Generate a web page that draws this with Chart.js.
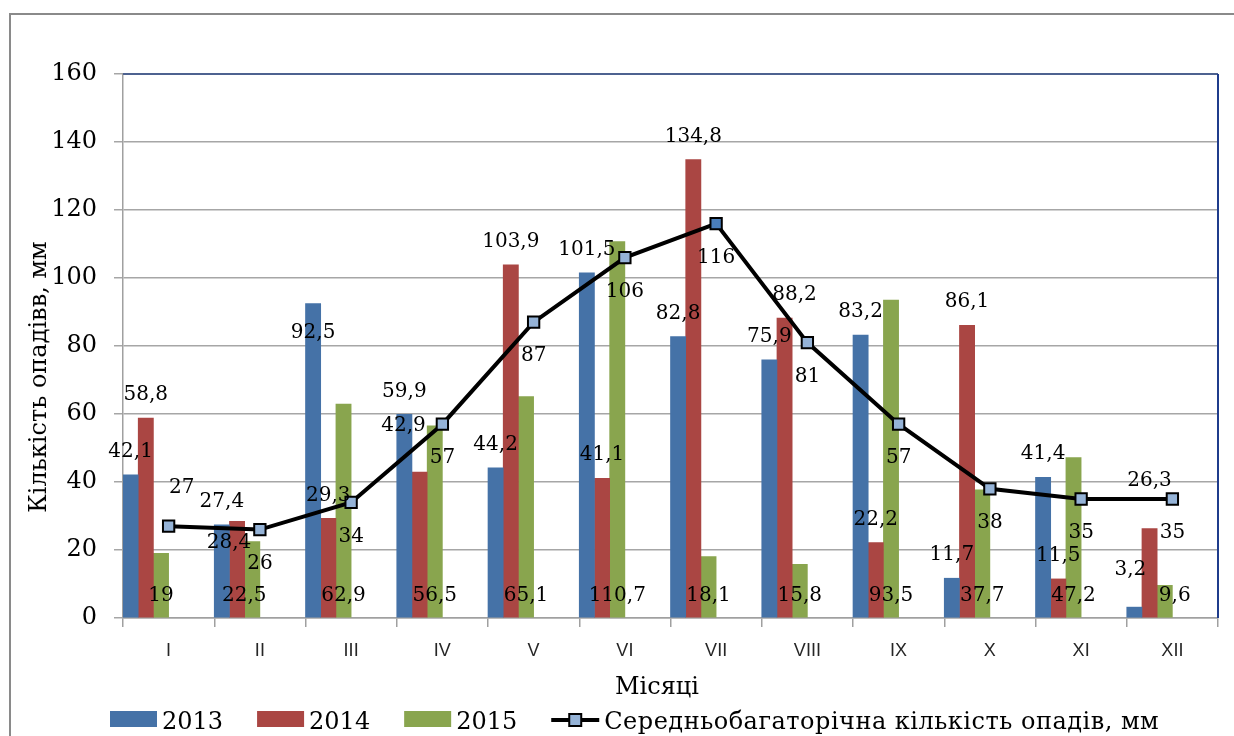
<!DOCTYPE html>
<html>
<head>
<meta charset="utf-8">
<script src="https://cdn.jsdelivr.net/npm/chart.js@4.4.1/dist/chart.umd.min.js"></script>
<style>
  html, body { margin: 0; padding: 0; background: #fff; }
  #wrap { width: 1234px; height: 736px; position: relative; }
</style>
</head>
<body>
<div id="wrap"><canvas id="rain" width="1234" height="736"></canvas></div>
<script>
// Monthly precipitation, mm
const months = ['I', 'II', 'III', 'IV', 'V', 'VI', 'VII', 'VIII', 'IX', 'X', 'XI', 'XII'];
const rain2013 = [42.1, 27.4, 92.5, 59.9, 44.2, 101.5, 82.8, 75.9, 83.2, 11.7, 41.4, 3.2];
const rain2014 = [58.8, 28.4, 29.3, 42.9, 103.9, 41.1, 134.8, 88.2, 22.2, 86.1, 11.5, 26.3];
const rain2015 = [19, 22.5, 62.9, 56.5, 65.1, 110.7, 18.1, 15.8, 93.5, 37.7, 47.2, 9.6];
const longTermMean = [27, 26, 34, 57, 87, 106, 116, 81, 57, 38, 35, 35];
const yMin = 0, yMax = 160, yStep = 20;

const seriesNames = ['2013', '2014', '2015', 'Середньобагаторічна кількість опадів, мм'];
const yTitle = 'Кількість опадівв, мм';
const xTitle = 'Місяці';

// hand-placed value labels: [dataset index, month index, dx, dy] relative to the default spot
const labelNudges = [
  [0, 2, 0, 52], [0, 11, -4, -14],
  [1, 1, -8, 44], [1, 3, -16, -23], [1, 7, 10, 0], [1, 11, 0, -25],
  [2, 1, -8, 0], [2, 11, 10, 0],
  [6, 0, 13, -72]
];

const BLUE = '#4572a7', RED = '#aa4643', GREEN = '#89a54e';
const MARK = '#95b3d7', MARK_PEAK = '#4a7ebb';
const SERIF = '"DejaVu Serif", serif';

const fmt = v => String(v).replace('.', ',');
const peak = Math.max(...longTermMean);

// empty slots keep each month's bar group on the left half of the category
const spacer = () => ({ type: 'bar', label: '', data: months.map(() => null), order: 1, valueLabel: null });

// outer frame and plot-area edges
const framePlugin = {
  id: 'frame',
  beforeDraw(chart) {
    const ctx = chart.ctx;
    ctx.save();
    ctx.fillStyle = '#fff';
    ctx.fillRect(0, 0, chart.width, chart.height);
    ctx.strokeStyle = '#8a8a8a';
    ctx.lineWidth = 2;
    ctx.strokeRect(10, 14, chart.width + 40, chart.height + 40);
    ctx.restore();
  },
  beforeDatasetsDraw(chart) {
    const { ctx, chartArea: a } = chart;
    ctx.save();
    ctx.lineWidth = 2;
    ctx.strokeStyle = '#4d6290';
    ctx.beginPath();
    ctx.moveTo(a.left, a.top);
    ctx.lineTo(a.right, a.top);
    ctx.stroke();
    ctx.strokeStyle = '#1f3c8c';
    ctx.beginPath();
    ctx.moveTo(a.right, a.top);
    ctx.lineTo(a.right, a.bottom);
    ctx.stroke();
    ctx.restore();
  }
};

// value labels for every bar and point
const valueLabelPlugin = {
  id: 'valueLabels',
  afterDatasetsDraw(chart) {
    const ctx = chart.ctx;
    const yScale = chart.scales.y;
    ctx.save();
    ctx.font = '20px ' + SERIF;
    ctx.fillStyle = '#000';
    ctx.textAlign = 'center';
    ctx.textBaseline = 'middle';
    chart.data.datasets.forEach((ds, i) => {
      if (!ds.valueLabel) return;
      const meta = chart.getDatasetMeta(i);
      meta.data.forEach((el, j) => {
        const v = ds.data[j];
        if (v == null) return;
        let x = el.x, y;
        if (ds.valueLabel === 'above') y = el.y - 24;
        else if (ds.valueLabel === 'base') y = yScale.getPixelForValue(0) - 23;
        else y = el.y + 33;
        const n = labelNudges.find(t => t[0] === i && t[1] === j);
        if (n) { x += n[2]; y += n[3]; }
        ctx.fillText(fmt(v), x, y + 1);
      });
    });
    ctx.restore();
  }
};

// rotated y-axis title, x-axis title and bottom legend
const annotationPlugin = {
  id: 'annot',
  afterDraw(chart) {
    const ctx = chart.ctx;
    ctx.save();
    ctx.fillStyle = '#000';
    ctx.font = '24px ' + SERIF;
    ctx.translate(40, 377);
    ctx.rotate(-Math.PI / 2);
    ctx.textAlign = 'center';
    ctx.textBaseline = 'middle';
    ctx.fillText(yTitle, 0, 0);
    ctx.restore();

    ctx.save();
    ctx.fillStyle = '#000';
    ctx.font = '24px ' + SERIF;
    ctx.textAlign = 'center';
    ctx.textBaseline = 'alphabetic';
    ctx.fillText(xTitle, 657, 694);
    ctx.restore();

    ctx.save();
    ctx.font = '24px ' + SERIF;
    ctx.textBaseline = 'alphabetic';
    ctx.textAlign = 'left';
    const cy = 719;
    let x = 110;
    const colors = [BLUE, RED, GREEN];
    seriesNames.forEach((name, k) => {
      if (k < 3) {
        ctx.fillStyle = colors[k];
        ctx.fillRect(x, cy - 8, 47, 16);
      } else {
        ctx.strokeStyle = '#000';
        ctx.lineWidth = 4;
        ctx.beginPath();
        ctx.moveTo(x, cy + 1);
        ctx.lineTo(x + 48, cy + 1);
        ctx.stroke();
        ctx.fillStyle = MARK;
        ctx.lineWidth = 2;
        ctx.fillRect(x + 18, cy - 5, 12, 12);
        ctx.strokeRect(x + 18, cy - 5, 12, 12);
      }
      ctx.fillStyle = '#000';
      const tx = x + (k < 3 ? 52 : 53);
      if (k === 3) ctx.letterSpacing = '0.5px';
      ctx.fillText(name, tx, cy + 10);
      x = tx + ctx.measureText(name).width + 34;
    });
    ctx.restore();
  }
};

new Chart(document.getElementById('rain'), {
  data: {
    labels: months,
    datasets: [
      { type: 'bar', label: seriesNames[0], data: rain2013, backgroundColor: BLUE, order: 1, valueLabel: 'above' },
      { type: 'bar', label: seriesNames[1], data: rain2014, backgroundColor: RED, order: 1, valueLabel: 'above' },
      { type: 'bar', label: seriesNames[2], data: rain2015, backgroundColor: GREEN, order: 1, valueLabel: 'base' },
      spacer(), spacer(), spacer(),
      {
        type: 'line', label: seriesNames[3], data: longTermMean, order: 0, valueLabel: 'below',
        borderColor: '#000', borderWidth: 4, tension: 0,
        pointStyle: 'rect', pointRadius: 8, pointBorderWidth: 2, pointBorderColor: '#000',
        pointBackgroundColor: c => (c.raw === peak ? MARK_PEAK : MARK)
      }
    ]
  },
  options: {
    responsive: false,
    devicePixelRatio: 1,
    animation: false,
    layout: { padding: { left: 0, right: 16, top: 74, bottom: 30 } },
    datasets: { bar: { categoryPercentage: 1, barPercentage: 1 } },
    plugins: { legend: { display: false }, tooltip: { enabled: false } },
    scales: {
      x: {
        offset: true,
        grid: { display: true, offset: true, drawOnChartArea: false, drawTicks: true, tickLength: 9, color: '#a0a0a0', lineWidth: 1.5 },
        border: { color: '#a0a0a0', width: 1.5 },
        ticks: { font: { family: '"Liberation Sans", sans-serif', size: 18 }, color: '#262626', padding: 13, maxRotation: 0, autoSkip: false },
        afterFit(s) { s.height = 88; }
      },
      y: {
        min: yMin, max: yMax,
        ticks: { stepSize: yStep, font: { family: SERIF, size: 24 }, color: '#000', padding: 17 },
        grid: { color: '#a6a6a6', lineWidth: 1.5, tickLength: 9 },
        border: { color: '#a0a0a0', width: 1.5 },
        afterFit(s) { s.width = 123; }
      }
    }
  },
  plugins: [framePlugin, valueLabelPlugin, annotationPlugin]
});
</script>
</body>
</html>
